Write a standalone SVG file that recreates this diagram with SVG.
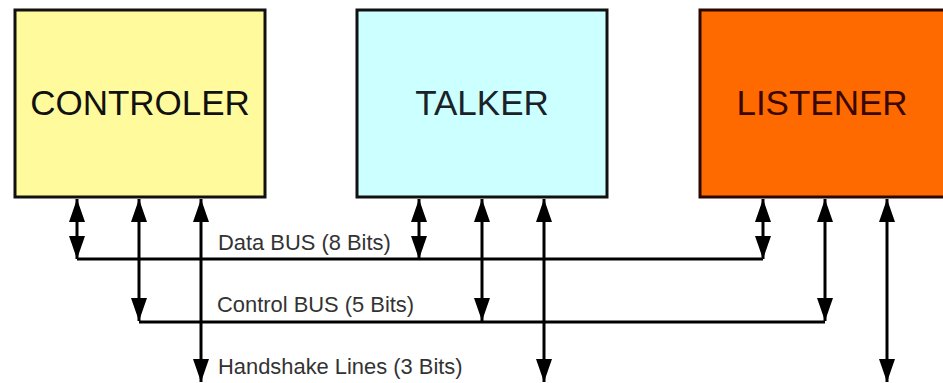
<svg xmlns="http://www.w3.org/2000/svg" width="943" height="383" viewBox="0 0 943 383">
<style>
.box{stroke:#111;stroke-width:3}
.title{font-family:"Liberation Sans",Arial,sans-serif;font-size:35px;text-anchor:middle}
.lbl{font-family:"Liberation Sans",Arial,sans-serif;font-size:21.9px;fill:#333}
.ln{stroke:#000;stroke-width:3;fill:none}
.arr{stroke:#000;stroke-width:3;fill:none;marker-start:url(#ah);marker-end:url(#ah)}
</style>
<defs>
<marker id="ah" viewBox="0 0 23 16" refX="23" refY="8" markerWidth="23" markerHeight="16" markerUnits="userSpaceOnUse" orient="auto-start-reverse">
<path d="M0,0 L23,8 L0,16 Z" fill="#000"/>
</marker>
</defs>
<rect width="943" height="383" fill="#fff"/>
<g id="controler">
<rect class="box" x="15" y="10" width="250" height="187" fill="#FFFB9C"/>
<text class="title" x="140" y="115" fill="#111">CONTROLER</text>
</g>
<g id="talker">
<rect class="box" x="357" y="10" width="250" height="187" fill="#CCFFFF"/>
<text class="title" x="482" y="115" fill="#1a2228">TALKER</text>
</g>
<g id="listener">
<rect x="700" y="10" width="250" height="187" fill="#FF6A00" stroke="#2a0800" stroke-width="3"/>
<text class="title" x="822" y="115" fill="#3a0800">LISTENER</text>
</g>
<g id="connectors">
<line class="ln" x1="77" y1="259" x2="763" y2="259"/>
<line class="ln" x1="139" y1="322" x2="825" y2="322"/>
<line class="arr" x1="77" y1="199" x2="77" y2="259"/>
<line class="arr" x1="139" y1="199" x2="139" y2="321"/>
<line class="arr" x1="201" y1="199" x2="201" y2="382"/>
<line class="arr" x1="419" y1="199" x2="419" y2="259"/>
<line class="arr" x1="482" y1="199" x2="482" y2="321"/>
<line class="arr" x1="544" y1="199" x2="544" y2="382"/>
<line class="arr" x1="763" y1="199" x2="763" y2="259"/>
<line class="arr" x1="825" y1="199" x2="825" y2="321"/>
<line class="arr" x1="887" y1="199" x2="887" y2="382"/>
</g>
<g id="labels">
<text class="lbl" x="218" y="250">Data BUS (8 Bits)</text>
<text class="lbl" x="217" y="312">Control BUS (5 Bits)</text>
<text class="lbl" x="218" y="374">Handshake Lines (3 Bits)</text>
</g>
</svg>
